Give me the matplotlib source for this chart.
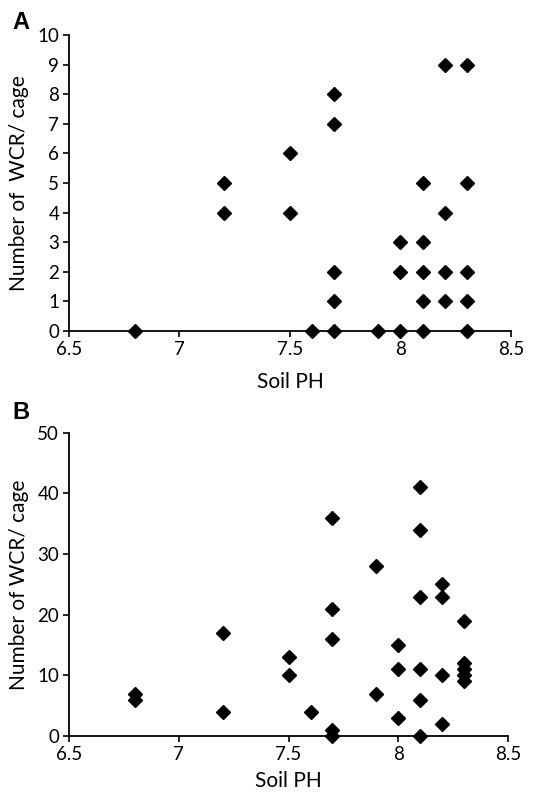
import matplotlib
matplotlib.use("Agg")
import matplotlib.pyplot as plt

# Panel A data
ph_a = [6.8, 7.2, 7.2, 7.5, 7.5, 7.6, 7.7, 7.7, 7.7, 7.7, 7.7, 7.9,
        8.0, 8.0, 8.0, 8.1, 8.1, 8.1, 8.1, 8.1, 8.2, 8.2, 8.2, 8.2,
        8.3, 8.3, 8.3, 8.3, 8.3]
wcr_a = [0, 4, 5, 4, 6, 0, 0, 1, 2, 7, 8, 0,
         0, 2, 3, 0, 1, 2, 3, 5, 1, 2, 4, 9,
         0, 1, 2, 5, 9]

# Panel B data
ph_b = [6.8, 6.8, 7.2, 7.2, 7.5, 7.5, 7.6, 7.7, 7.7, 7.7, 7.7, 7.7,
        7.9, 7.9, 8.0, 8.0, 8.0, 8.1, 8.1, 8.1, 8.1, 8.1, 8.1,
        8.2, 8.2, 8.2, 8.2, 8.3, 8.3, 8.3, 8.3, 8.3]
wcr_b = [6, 7, 4, 17, 10, 13, 4, 0, 1, 16, 21, 36,
         7, 28, 3, 11, 15, 0, 6, 11, 23, 34, 41,
         2, 10, 23, 25, 9, 10, 11, 12, 19]

xticks = [6.5, 7, 7.5, 8, 8.5]
xticklabels = ["6.5", "7", "7.5", "8", "8.5"]

plt.rcParams['font.family'] = ['Lato', 'DejaVu Sans']

fig = plt.figure(figsize=(5.56, 7.94), dpi=100)
axA = fig.add_axes([0.124, 0.583, 0.795, 0.373])
axB = fig.add_axes([0.124, 0.073, 0.790, 0.382])

def style(ax, ymax, ystep, ylabel):
    ax.set_xlim(6.5, 8.5)
    ax.set_ylim(0, ymax)
    ax.set_xticks(xticks)
    ax.set_xticklabels(xticklabels)
    ax.set_yticks(range(0, ymax + 1, ystep))
    for s in ['top', 'right']:
        ax.spines[s].set_visible(False)
    for s in ['left', 'bottom']:
        ax.spines[s].set_linewidth(1.3)
        ax.spines[s].set_color('black')
    ax.tick_params(axis='both', direction='out', length=4, width=1.2,
                   labelsize=13.5, colors='black', pad=3)
    ax.set_xlabel("Soil PH", fontsize=15, labelpad=10)
    ax.set_ylabel(ylabel, fontsize=15, labelpad=6)

axA.plot(ph_a, wcr_a, linestyle='none', marker='D', markersize=7.5,
         color='black', clip_on=False, zorder=5)
style(axA, 10, 1, "Number of  WCR/ cage")

axB.plot(ph_b, wcr_b, linestyle='none', marker='D', markersize=7.5,
         color='black', clip_on=False, zorder=5)
style(axB, 50, 10, "Number of WCR/ cage")
axB.xaxis.labelpad = 6

fig.text(0.022, 0.972, "A", fontsize=17, fontweight='bold',
         family='Liberation Sans', va='center', ha='left')
fig.text(0.022, 0.480, "B", fontsize=17, fontweight='bold',
         family='Liberation Sans', va='center', ha='left')

fig.savefig("out.png", dpi=100)
